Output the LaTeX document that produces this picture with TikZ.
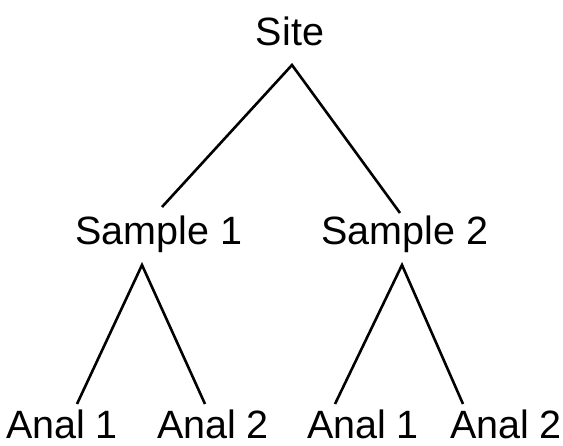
\documentclass[tikz,border=0pt]{standalone}
\usepackage{fontspec}
\setmainfont{Liberation Sans}
\begin{document}
\begin{tikzpicture}[x=1pt,y=1pt,
  lbl/.style={anchor=base, inner sep=0pt, text depth=0pt, font=\fontsize{39.5}{44}\selectfont},
  edge/.style={line width=2.6pt, line cap=butt}]
\useasboundingbox (0,0) rectangle (563,-446);
\node[lbl] (site) at (290,-46) {Site};
\node[lbl] (s1) at (159,-245) {Sample 1};
\node[lbl] (s2) at (405,-245) {Sample 2};
\node[lbl] (a11) at (62,-439) {Anal 1};
\node[lbl] (a12) at (213,-439) {Anal 2};
\node[lbl] (a21) at (363,-439) {Anal 1};
\node[lbl] (a22) at (506,-439) {Anal 2};
\coordinate (siteB) at (292,-65);
\coordinate (s1T) at (162,-207);
\coordinate (s2T) at (400,-213);
\coordinate (s1B) at (142,-265);
\coordinate (s2B) at (402,-265);
\coordinate (a11T) at (77,-404);
\coordinate (a12T) at (205,-404);
\coordinate (a21T) at (335,-404);
\coordinate (a22T) at (463,-404);
\draw[edge] (s1T) -- (siteB) -- (s2T);
\draw[edge] (a11T) -- (s1B) -- (a12T);
\draw[edge] (a21T) -- (s2B) -- (a22T);
\end{tikzpicture}
\end{document}
